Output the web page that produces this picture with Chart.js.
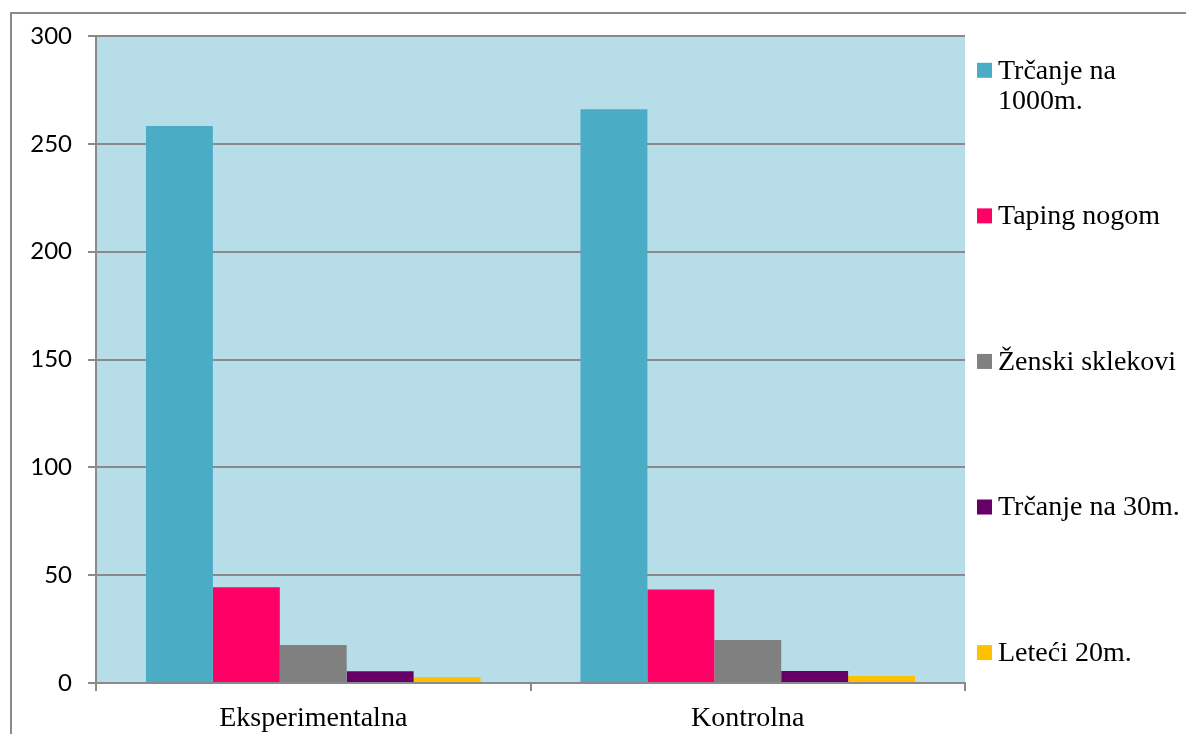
<!DOCTYPE html>
<html>
<head>
<meta charset="utf-8">
<script src="https://cdn.jsdelivr.net/npm/chart.js@4"></script>
<style>
    html, body { margin: 0; padding: 0; background: #fff; overflow: hidden; }
    #wrap { position: relative; width: 1186px; height: 734px; }
    /* Rahmen um das Diagramm (nur oben und links sichtbar) */
    #frame { position: absolute; left: 10px; top: 12px; width: 1400px; height: 900px;
             border-left: 2px solid #8a8a8a; border-top: 2px solid #8a8a8a; }
    #chart { position: absolute; left: 0; top: 0; }
</style>
</head>
<body>
<div id="wrap">
    <div id="frame"></div>
    <canvas id="chart" width="1186" height="734"></canvas>
</div>
<script>
// Gruppen und Tests
const groups = ['Eksperimentalna', 'Kontrolna'];
const tests = ['Trčanje na 1000m.', 'Taping nogom', 'Ženski sklekovi', 'Trčanje na 30m.', 'Leteći 20m.'];
const testColors = ['#4bacc6', '#ff0066', '#808080', '#660066', '#ffc000'];

// Werte je Test: [Eksperimentalna, Kontrolna]
const trcanje1000 = [258.3, 266.0];
const tapingNogom = [44.4, 43.4];
const zenskiSklekovi = [17.6, 19.9];
const trcanje30 = [5.4, 5.6];
const leteci20 = [2.8, 3.2];

const yTicks = [0, 50, 100, 150, 200, 250, 300];

const seriesValues = [trcanje1000, tapingNogom, zenskiSklekovi, trcanje30, leteci20];

const axisGray = '#8a8a8a';
const sansFont = 'Lato, "Open Sans", sans-serif';
const serifFont = '"Liberation Serif", "DejaVu Serif", serif';

// Hintergrund der Zeichenfläche
const plotBackground = {
    id: 'plotBackground',
    beforeDraw(chart) {
        const { ctx, chartArea } = chart;
        ctx.save();
        ctx.fillStyle = '#b7dde8';
        ctx.fillRect(chartArea.left, chartArea.top, chartArea.right - chartArea.left, chartArea.bottom - chartArea.top);
        ctx.restore();
    }
};

// Legende rechts, mit festem Abstand zwischen den Einträgen und Zeilenumbruch
const sideLegend = {
    id: 'sideLegend',
    afterDraw(chart) {
        const { ctx, chartArea } = chart;
        const sets = chart.data.datasets;
        const boxX = chartArea.right + 12;
        const textX = boxX + 21;
        const maxW = chart.width - textX;
        const h = chartArea.bottom - chartArea.top;
        const first = chartArea.top + h * 0.053;
        const step = h * 0.225;
        const lineH = 30;
        ctx.save();
        ctx.font = '28px ' + serifFont;
        ctx.textBaseline = 'middle';
        sets.forEach((ds, i) => {
            const cy = first + step * i;
            ctx.fillStyle = ds.backgroundColor;
            ctx.fillRect(boxX, cy - 7.5, 15, 15);
            ctx.fillStyle = '#000';
            // Wörter auf Zeilen verteilen
            const lines = [];
            let cur = '';
            ds.label.split(' ').forEach(w => {
                const t = cur ? cur + ' ' + w : w;
                if (cur && ctx.measureText(t).width > maxW) {
                    lines.push(cur);
                    cur = w;
                } else {
                    cur = t;
                }
            });
            lines.push(cur);
            lines.forEach((l, j) => ctx.fillText(l, textX, cy + j * lineH + 1));
        });
        ctx.restore();
    }
};

new Chart(document.getElementById('chart'), {
    type: 'bar',
    data: {
        labels: groups,
        datasets: tests.map((t, i) => ({
            label: t,
            data: seriesValues[i],
            backgroundColor: testColors[i],
            borderWidth: 0,
            barPercentage: 1,
            categoryPercentage: 0.77
        }))
    },
    options: {
        responsive: false,
        animation: false,
        layout: {
            padding: { left: 0, top: 36, right: 221, bottom: 0 }
        },
        plugins: {
            legend: { display: false },
            tooltip: { enabled: false }
        },
        scales: {
            x: {
                grid: {
                    offset: true,
                    drawOnChartArea: false,
                    drawTicks: true,
                    tickLength: 8,
                    color: axisGray,
                    lineWidth: 2
                },
                border: { display: true, color: axisGray, width: 2 },
                ticks: {
                    color: '#000',
                    padding: 11,
                    font: { family: serifFont, size: 28 }
                },
                afterFit(scale) { scale.height = 51; }
            },
            y: {
                min: 0,
                max: 300,
                afterBuildTicks(scale) { scale.ticks = yTicks.map(v => ({ value: v })); },
                grid: {
                    color: axisGray,
                    lineWidth: 2,
                    drawTicks: true,
                    tickLength: 8
                },
                border: { display: true, color: axisGray, width: 2 },
                ticks: {
                    color: '#000',
                    padding: 16,
                    font: { family: sansFont, size: 24 }
                },
                afterFit(scale) { scale.width = 96; }
            }
        }
    },
    plugins: [plotBackground, sideLegend]
});
</script>
</body>
</html>
